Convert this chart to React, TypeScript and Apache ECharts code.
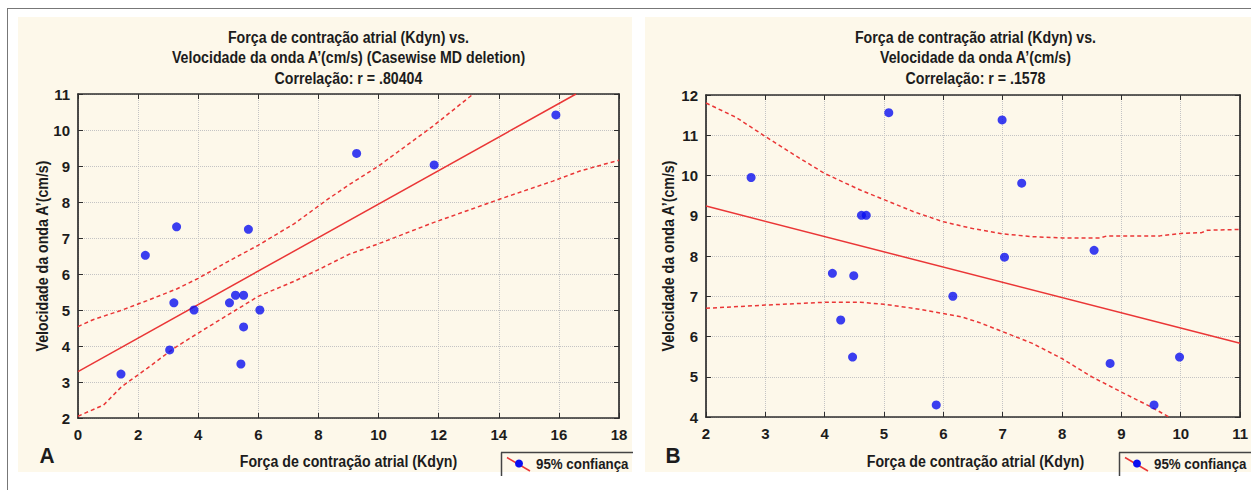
import React, { useEffect, useRef } from "react";
import * as echarts from "echarts";

// ---------- Data ----------
// Panel A
const forceA = [1.43, 2.24, 3.05, 3.19, 3.28, 3.86, 5.04, 5.24, 5.42, 5.51, 5.51, 5.67, 6.05, 9.27, 11.85, 15.9];
const velA = [3.22, 6.52, 3.89, 5.2, 7.31, 5.0, 5.2, 5.41, 3.5, 5.41, 4.53, 7.24, 5.0, 9.35, 9.03, 10.42];
const fitA = [[0, 3.29], [16.57, 11.0]];
const upperA = [[0, 4.54], [0.5, 4.73], [1.4, 4.98], [2.3, 5.26], [3.3, 5.59], [4, 5.88], [5, 6.35], [6, 6.8], [7.2, 7.4], [8.3, 8.07], [9, 8.47], [10, 9.0], [11.8, 10.1], [13.15, 11.0]];
const lowerA = [[0, 2.05], [0.85, 2.36], [1.45, 2.87], [2.3, 3.38], [3.2, 3.94], [4, 4.36], [5, 4.87], [6, 5.38], [7.2, 5.8], [8, 6.12], [9, 6.54], [10, 6.84], [11.8, 7.42], [14, 8.07], [15.8, 8.58], [16.7, 8.86], [17.6, 9.07], [18, 9.16]];
const xTicksA = { min: 0, max: 18, interval: 2 };
const yTicksA = { min: 2, max: 11, interval: 1 };

// Panel B
const forceB = [2.76, 4.13, 4.27, 4.47, 4.49, 4.62, 4.7, 5.08, 5.88, 6.16, 6.99, 7.03, 7.32, 8.54, 8.81, 9.55, 9.98];
const velB = [9.95, 7.57, 6.41, 5.49, 7.51, 9.01, 9.01, 11.56, 4.3, 7.0, 11.38, 7.97, 9.81, 8.14, 5.33, 4.3, 5.49];
const fitB = [[2, 9.24], [11, 5.83]];
const upperB = [[2, 11.8], [2.5, 11.45], [3, 10.97], [3.5, 10.5], [4, 10.05], [4.6, 9.64], [5, 9.4], [5.5, 9.1], [6, 8.85], [6.5, 8.68], [7, 8.55], [7.5, 8.48], [8, 8.45], [8.65, 8.45], [8.76, 8.5], [9.65, 8.5], [10, 8.56], [10.35, 8.58], [10.45, 8.64], [11, 8.66]];
const lowerB = [[2, 6.7], [3, 6.78], [4, 6.85], [4.6, 6.85], [5, 6.8], [5.5, 6.7], [6, 6.57], [6.3, 6.49], [6.6, 6.35], [7, 6.12], [7.5, 5.83], [8, 5.45], [8.5, 5.0], [9, 4.62], [9.5, 4.25], [9.8, 4.0]];
const xTicksB = { min: 2, max: 11, interval: 1 };
const yTicksB = { min: 4, max: 12, interval: 1 };

// Texts
const titleA = ["Força de contração atrial (Kdyn) vs.", "Velocidade da onda A’(cm/s) (Casewise MD deletion)", "Correlação: r = .80404"];
const titleB = ["Força de contração atrial (Kdyn) vs.", "Velocidade da onda A’(cm/s)", "Correlação: r = .1578"];
const xName = "Força de contração atrial (Kdyn)";
const yName = "Velocidade da onda A’(cm/s)";
const legendText = "95% confiança";

// ---------- Styles ----------
const FONT = "'Liberation Sans', Arial, sans-serif";
const NARROW = 0.86;
const CREAM = "#fdf8ea";
const RED = "#ea3636";
const BLUE = "#0a0ff0";
const FRAME = "#2e2e2e";
const TXT = "#1c1c1c";

const gridA = { left: 78, top: 94, width: 541, height: 324 };
const gridB = { left: 706, top: 95, width: 539, height: 322 };

function txt(text: string, x: number, y: number, size: number, align = "center", extra: any = {}) {
  return {
    type: "text",
    x,
    y,
    z: 5,
    scaleX: NARROW,
    ...extra,
    style: {
      text,
      fill: TXT,
      fontSize: size,
      fontWeight: "bold",
      fontFamily: FONT,
      align,
      verticalAlign: "middle",
      textAlign: align,
      textVerticalAlign: "middle",
    },
  };
}

const labelStyle = { color: TXT, fontSize: 15, fontWeight: "bold", fontFamily: FONT };

function mainX(t: any, grid: number) {
  return {
    type: "value",
    gridIndex: grid,
    position: "bottom",
    ...t,
    axisLine: { show: true, onZero: false, lineStyle: { color: FRAME, width: 1.7 } },
    axisTick: { show: true, inside: true, length: 5, lineStyle: { color: FRAME } },
    axisLabel: { show: true, margin: 9, ...labelStyle },
    splitLine: { show: true, lineStyle: { color: "#c4c4c4", type: "dotted", width: 1 } },
  };
}
function sideX(t: any, grid: number) {
  return {
    type: "value",
    gridIndex: grid,
    position: "top",
    ...t,
    axisLine: { show: true, onZero: false, lineStyle: { color: FRAME, width: 1.7 } },
    axisTick: { show: true, inside: true, length: 5, lineStyle: { color: FRAME } },
    axisLabel: { show: false },
    splitLine: { show: false },
  };
}
function mainY(t: any, grid: number) {
  return {
    type: "value",
    gridIndex: grid,
    position: "left",
    ...t,
    axisLine: { show: true, onZero: false, lineStyle: { color: FRAME, width: 1.7 } },
    axisTick: { show: true, inside: true, length: 5, lineStyle: { color: FRAME } },
    axisLabel: { show: true, margin: 8, ...labelStyle },
    splitLine: { show: true, lineStyle: { color: "#c4c4c4", type: "dotted", width: 1 } },
  };
}
function sideY(t: any, grid: number) {
  return {
    type: "value",
    gridIndex: grid,
    position: "right",
    ...t,
    axisLine: { show: true, onZero: false, lineStyle: { color: FRAME, width: 1.7 } },
    axisTick: { show: true, inside: true, length: 5, lineStyle: { color: FRAME } },
    axisLabel: { show: false },
    splitLine: { show: false },
  };
}

function lineSeries(data: number[][], xi: number, yi: number, dashed: boolean) {
  return {
    type: "line",
    xAxisIndex: xi,
    yAxisIndex: yi,
    data,
    symbol: "none",
    showSymbol: false,
    clip: true,
    z: 3,
    lineStyle: { color: RED, width: 1.5, type: dashed ? [4, 3] : "solid" },
  };
}

function legend(x0: number, x1: number) {
  return [
    { type: "line", z: 5, shape: { x1: x0, y1: 452.5, x2: x1, y2: 452.5 }, style: { stroke: "#444", lineWidth: 1.5 } },
    { type: "line", z: 5, shape: { x1: x0 + 0.5, y1: 452.5, x2: x0 + 0.5, y2: 476 }, style: { stroke: "#444", lineWidth: 1.5 } },
    { type: "line", z: 5, shape: { x1: x0 + 6, y1: 457.5, x2: x0 + 29, y2: 471 }, style: { stroke: RED, lineWidth: 1.5 } },
    { type: "circle", z: 6, shape: { cx: x0 + 18, cy: 463.5, r: 4 }, style: { fill: BLUE } },
    txt(legendText, x0 + 35, 464, 15.5, "left"),
  ];
}

export default function App() {
  const ref = useRef<HTMLDivElement>(null);
  useEffect(() => {
    if (!ref.current) return;
    const chart = echarts.init(ref.current, undefined, { renderer: "svg" });
    const cxA = gridA.left + gridA.width / 2;
    const cxB = gridB.left + gridB.width / 2;
    const cyA = gridA.top + gridA.height / 2;
    const cyB = gridB.top + gridB.height / 2;
    const graphics: any[] = [
      { type: "rect", z: -10, shape: { x: 18, y: 17, width: 614, height: 455 }, style: { fill: CREAM } },
      { type: "rect", z: -10, shape: { x: 645, y: 17, width: 606, height: 455 }, style: { fill: CREAM } },
      { type: "line", z: 5, shape: { x1: 7, y1: 8.5, x2: 1251, y2: 8.5 }, style: { stroke: "#777", lineWidth: 1 } },
      { type: "line", z: 5, shape: { x1: 7.5, y1: 8, x2: 7.5, y2: 490 }, style: { stroke: "#777", lineWidth: 1 } },
      ...titleA.map((t, i) => txt(t, cxA, 37 + i * 20.5, 16.5)),
      ...titleB.map((t, i) => txt(t, cxB, 37 + i * 20.5, 16.5)),
      txt(xName, cxA, 461, 16.5),
      txt(xName, cxB, 461, 16.5),
      txt(yName, 42, cyA, 16.5, "center", { rotation: Math.PI / 2 }),
      txt(yName, 668, cyB, 16.5, "center", { rotation: Math.PI / 2 }),
      txt("A", 47, 456, 22, "center", { scaleX: 0.95 }),
      txt("B", 673, 456, 22, "center", { scaleX: 0.95 }),
      ...legend(501, 633),
      ...legend(1119, 1251),
    ];
    chart.setOption({
      animation: false,
      backgroundColor: "#ffffff",
      grid: [
        { ...gridA, containLabel: false },
        { ...gridB, containLabel: false },
      ],
      xAxis: [mainX(xTicksA, 0), sideX(xTicksA, 0), mainX(xTicksB, 1), sideX(xTicksB, 1)],
      yAxis: [mainY(yTicksA, 0), sideY(yTicksA, 0), mainY(yTicksB, 1), sideY(yTicksB, 1)],
      graphic: { elements: graphics },
      series: [
        lineSeries(fitA, 0, 0, false),
        lineSeries(upperA, 0, 0, true),
        lineSeries(lowerA, 0, 0, true),
        {
          type: "scatter",
          xAxisIndex: 0,
          yAxisIndex: 0,
          z: 4,
          symbolSize: 9,
          itemStyle: { color: BLUE },
          data: forceA.map((x, i) => [x, velA[i]]),
        },
        lineSeries(fitB, 2, 2, false),
        lineSeries(upperB, 2, 2, true),
        lineSeries(lowerB, 2, 2, true),
        {
          type: "scatter",
          xAxisIndex: 2,
          yAxisIndex: 2,
          z: 4,
          symbolSize: 9,
          itemStyle: { color: BLUE },
          data: forceB.map((x, i) => [x, velB[i]]),
        },
      ],
    });
    return () => chart.dispose();
  }, []);
  return <div ref={ref} style={{ position: "fixed", left: 0, top: 0, width: 1251, height: 490 }} />;
}
